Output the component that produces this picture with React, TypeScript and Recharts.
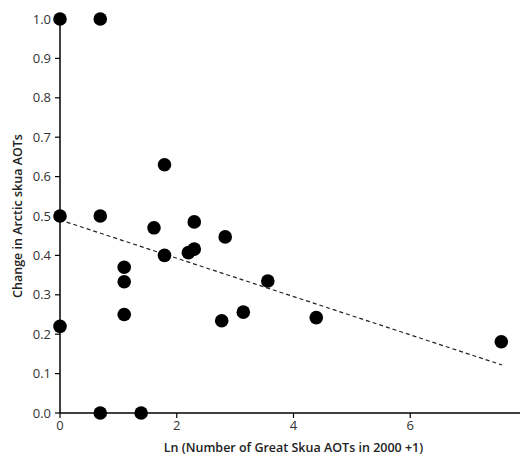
import { ScatterChart, Scatter, XAxis, YAxis } from "recharts";

// ln(Great Skua AOTs + 1) vs change in Arctic skua AOTs
const skuaX = [0, 0.69, 0, 0.69, 0, 0.69, 1.39, 1.1, 1.1, 1.1, 1.61, 1.79, 1.79, 2.3, 2.2, 2.3, 2.83, 2.77, 3.14, 3.56, 4.39, 7.56];
const skuaY = [1.0, 1.0, 0.5, 0.5, 0.22, 0, 0, 0.37, 0.333, 0.25, 0.47, 0.63, 0.4, 0.485, 0.407, 0.416, 0.447, 0.234, 0.256, 0.335, 0.242, 0.181];

// fitted regression line end points
const trendX = [0, 7.57];
const trendY = [0.49, 0.122];

const xTicks = [0, 2, 4, 6, 8];
const yTicks = [0, 0.1, 0.2, 0.3, 0.4, 0.5, 0.6, 0.7, 0.8, 0.9, 1.0];

const points = skuaX.map((x, i) => ({ x, y: skuaY[i] }));
const trend = trendX.map((x, i) => ({ x, y: trendY[i] }));

const FONT = "'Open Sans', 'Noto Sans', sans-serif";
const tickStyle = { fontSize: 13, fill: "#333", fontFamily: FONT };

const Dot = (props: any) => <circle cx={props.cx} cy={props.cy} r={6.8} fill="#000" />;

export default function App() {
  return (
    <ScatterChart
      width={520}
      height={448}
      margin={{ top: 11, right: 1, bottom: 0, left: 0 }}
    >
      <XAxis
        dataKey="x"
        type="number"
        domain={[0, 8]}
        ticks={xTicks}
        interval={0}
        tick={tickStyle}
        tickSize={5}
        tickMargin={3}
        height={43}
        axisLine={{ stroke: "#000", strokeWidth: 1.5 }}
        tickLine={{ stroke: "#000", strokeWidth: 1.2 }}
        label={({ viewBox }: any) => (
          <text
            x={viewBox.x + viewBox.width / 2}
            y={viewBox.y + 39}
            textAnchor="middle"
            fontSize={12.5}
            fontWeight={600}
            fontFamily={FONT}
            fill="#222"
          >
            Ln (Number of Great Skua AOTs in 2000 +1)
          </text>
        )}
      />
      <YAxis
        dataKey="y"
        type="number"
        domain={[0, 1]}
        ticks={yTicks}
        interval={0}
        tickFormatter={(v) => v.toFixed(1)}
        tick={tickStyle}
        tickSize={5}
        tickMargin={4}
        width={52}
        axisLine={{ stroke: "#000", strokeWidth: 1.5 }}
        tickLine={{ stroke: "#000", strokeWidth: 1.2 }}
        label={({ viewBox }: any) => {
          const cx = 14;
          const cy = viewBox.y + viewBox.height / 2;
          return (
            <text
              x={cx}
              y={cy}
              transform={`rotate(-90 ${cx} ${cy})`}
              textAnchor="middle"
              fontSize={12.5}
              fontWeight={600}
              fontFamily={FONT}
              fill="#222"
            >
              Change in Arctic skua AOTs
            </text>
          );
        }}
      />
      <Scatter
        data={trend}
        line={{ stroke: "#222", strokeWidth: 1.2, strokeDasharray: "4 3" }}
        shape={() => <g />}
        isAnimationActive={false}
      />
      <Scatter data={points} shape={Dot} isAnimationActive={false} />
    </ScatterChart>
  );
}
